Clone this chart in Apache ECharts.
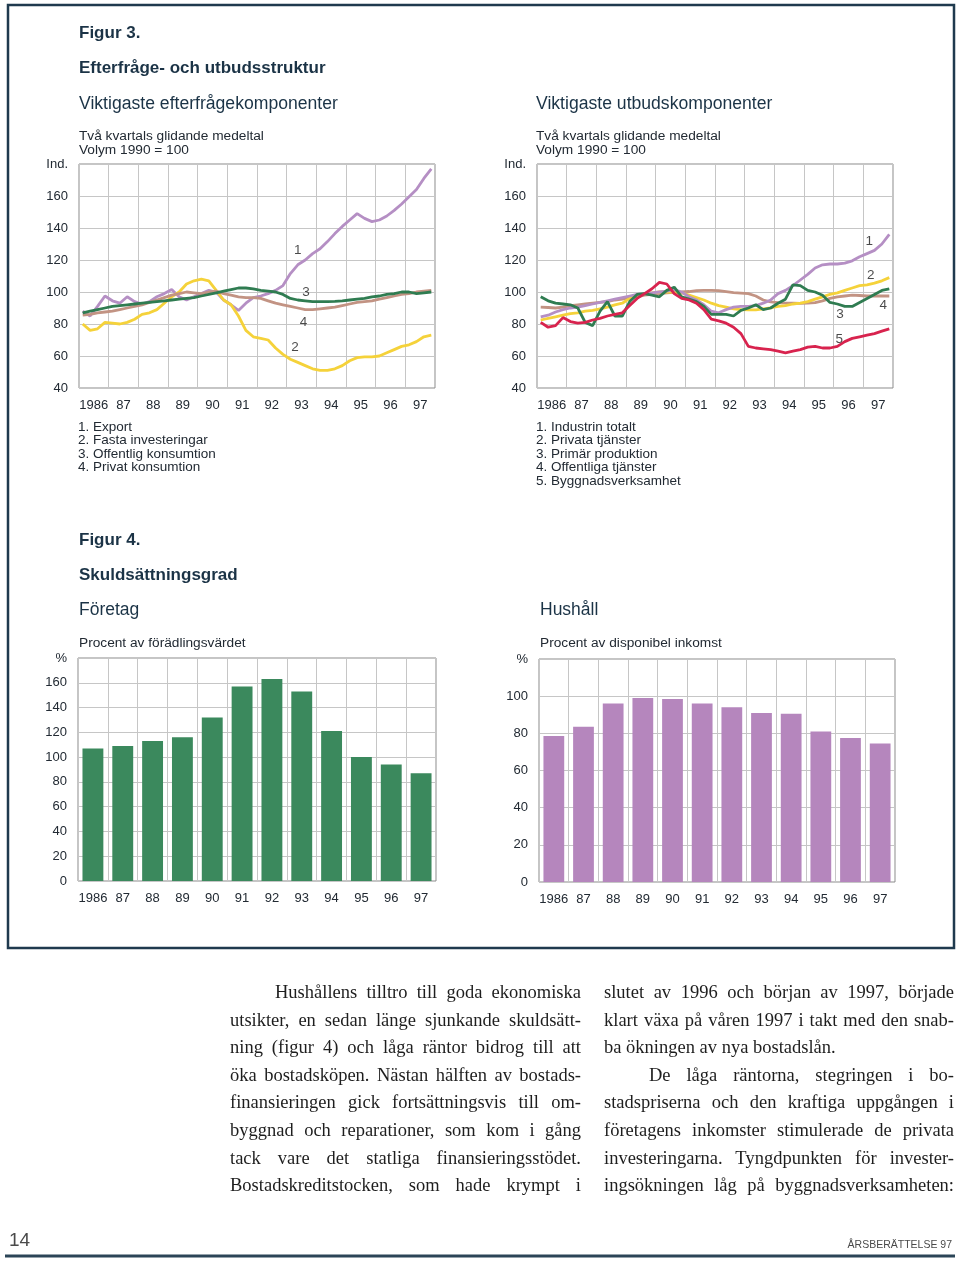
<!DOCTYPE html>
<html><head><meta charset="utf-8">
<script src="https://cdn.jsdelivr.net/npm/echarts/dist/echarts.min.js"></script>
<style>
html,body{margin:0;padding:0;background:#fff;}
#c{position:absolute;left:0;top:0;width:960px;height:1262px;}
.col{position:absolute;top:979px;font-family:"Liberation Serif","Times New Roman",serif;font-size:18.5px;color:#1e1e1e;}
.col div{box-sizing:border-box;width:100%;height:27.6px;line-height:27.6px;white-space:nowrap;text-align:justify;text-align-last:justify;}
.col div.l{text-align:left;text-align-last:left;}
.col div.i{padding-left:45px;}
</style></head>
<body>
<div id="c"></div>
<div class="col" style="left:230px;width:351px">
<div class="i">Hushållens tilltro till goda ekonomiska</div>
<div>utsikter, en sedan länge sjunkande skuldsätt-</div>
<div>ning (figur 4) och låga räntor bidrog till att</div>
<div>öka bostadsköpen. Nästan hälften av bostads-</div>
<div>finansieringen gick fortsättningsvis till om-</div>
<div>byggnad och reparationer, som kom i gång</div>
<div>tack vare det statliga finansieringsstödet.</div>
<div>Bostadskreditstocken, som hade krympt i</div>
</div>
<div class="col" style="left:604px;width:350px">
<div>slutet av 1996 och början av 1997, började</div>
<div>klart växa på våren 1997 i takt med den snab-</div>
<div class="l">ba ökningen av nya bostadslån.</div>
<div class="i">De låga räntorna, stegringen i bo-</div>
<div>stadspriserna och den kraftiga uppgången i</div>
<div>företagens inkomster stimulerade de privata</div>
<div>investeringarna. Tyngdpunkten för invester-</div>
<div>ingsökningen låg på byggnadsverksamheten:</div>
</div>
<script>
// ---------- data ----------
const years = ['1986','87','88','89','90','91','92','93','94','95','96','97'];
// Figur 3, left: quarterly values 1986Q1..1997Q4 (Volym 1990 = 100)
const exportQ = [88,85,91,97.5,94.5,93,97,94,92.5,94,97,99,101.5,97,95,97,99,101,100,95,92,88.5,93,96.5,97.5,99,101,104,111.5,117,120,124,127,131.5,136.5,141,145,149,146,144,145,147.5,151,155,159.5,164,171,177];
const fastaQ = [80,76,77,81,80.5,80,81,83,86,87,89,93,97,100,105,107,108,107,101,95,92,85,76,72,71,70,65,61,58,56,54,52,51,51,52,54,57,59,59.5,59.5,60,62,64,66,67,69,72,73];
const offKonsQ = [87,88,89,90,91,91.5,92,92.5,93,93.5,94,94.5,95,95.5,96,96.5,97.5,98.5,99.5,100.5,101.5,102.5,102.5,102,101,100.5,100,98.5,96,95,94.5,94,94,94,94.2,94.5,95,95.5,96,97,97.5,98.5,99,100,100,99,99.5,100];
const privKonsQ = [85.5,86,87,87.5,88,89,90,91,92,93.5,95,96.5,98,99,100,99.5,99,100,100.5,99,98,97,96.5,96.5,96,94.5,93,92,91,90,89,89,89.5,90,90.5,91.5,92.5,93.5,94,94.5,95.5,96.5,97.5,98.5,99,100,100.5,101];
// Figur 3, right
const industriQ = [84.5,85.5,87.5,89,90,90.5,91.5,92.5,93.5,94.5,95.5,96.5,97.5,98.5,99,99.5,100,100.5,101.5,100,97,95,92,88,87,89,90.5,91,91,91.5,93,95,99,101,104,107.5,111,115,117,117.5,117.5,118,119.5,122,124,126,130,136];
const privTjQ = [82.5,83.5,84.5,85.5,86.5,87,88,88.5,89.5,90.5,92,93,96,98,99,99.5,100,100,100,99.5,98,96.5,95,93,91.5,90.5,89.5,89,88.8,88.8,89.5,90,91,91.5,92.5,93,94,95.5,97,98.5,99.5,101,102.5,104,104.5,105.5,107,109];
const primarQ = [97,94.5,93,92.5,92,90,81,79,88,94,85,85,94,98.5,99,98,97,101,103,97,95.5,94,91,86,86,86,85,88.5,90,92,89,90,93,95.5,104.5,104,101,100,98,93.5,92.5,91,91,93.5,96,98.5,101,102];
const offTjQ = [90.5,90.3,90,90.5,91.5,92,92.5,93,93.5,94,95,95.5,96.5,97,98,98.5,99,99.5,99.8,100,100.3,100.8,101,101,100.8,100.2,99.6,99.3,99,97.5,95,93.8,93.3,93,93,92.9,93,93.3,94.5,96,97,97.5,98,97.8,97.5,97.5,97.5,97.5];
const byggQ = [81,78,79,84,81.5,80.5,81,82.5,83.5,85,86,87,91.5,96,99,102,106,105,99,96,95,93,89,83,82,80.5,78,74,66,65,64.5,64,63,62,63,64,65.5,66,65,65,66,69,71,72,73,74,75.5,77];
// line labels [year, value, text]
const leftLabels = [[1993.37,125.8,'1'],[1993.65,99.6,'3'],[1993.57,81.25,'4'],[1993.28,65.2,'2']];
const rightLabels = [[1997.20,131.9,'1'],[1997.25,110.2,'2'],[1996.21,86.25,'3'],[1997.67,91.4,'4'],[1996.19,70.4,'5']];
// Figur 4
const foretag = [107,109,113,116,132,157,163,153,121,100,94,87];
const hushall = [78.5,83.5,96,99,98.5,96,94,91,90.5,81,77.5,74.5];
const leftLegend = ['1. Export','2. Fasta investeringar','3. Offentlig konsumtion','4. Privat konsumtion'];
const rightLegend = ['1. Industrin totalt','2. Privata tjänster','3. Primär produktion','4. Offentliga tjänster','5. Byggnadsverksamhet'];

// ---------- styles ----------
const SANS = '"Liberation Sans", Arial, Helvetica, sans-serif';
const NAVY = '#1b3346';
const TXT = '#222a33';
const C = {purple:'#b58fc4', yellow:'#f5d23a', green:'#2f7c51', tan:'#c29383', red:'#d8234e',
           barGreen:'#3b895d', barPurple:'#b586bd', grid:'#c6c6c6', border:'#8a8a8a'};

const qx = k => 1986 + (k + 0.5) / 4;
const toXY = arr => arr.map((v, k) => [qx(k), v]);

function T(text, x, y, size, opt) {
  opt = opt || {};
  return {type:'text', silent:true, z:10, style:Object.assign({text:text, x:x, y:y, fill:opt.fill||TXT,
    fontSize:size, fontFamily:SANS, fontWeight:opt.weight||'normal', align:opt.align||'left', verticalAlign:'middle'}, opt.extra||{})};
}

const catX = (gi) => ({type:'category', gridIndex:gi, data:years, boundaryGap:true,
  axisLine:{show:false}, axisTick:{show:false},
  axisLabel:{interval:0, color:TXT, fontSize:13, fontFamily:SANS, margin:10.5},
  splitLine:{show:true, interval:0, lineStyle:{color:C.grid, width:1}}});
const valX = (gi) => ({type:'value', gridIndex:gi, min:1986, max:1998, show:false});
const valY = (gi, min, max, topLabel) => ({type:'value', gridIndex:gi, min:min, max:max, interval:20,
  axisLine:{show:false}, axisTick:{show:false},
  axisLabel:{color:TXT, fontSize:13, fontFamily:SANS, margin:11, formatter: v => v === max ? topLabel : String(v)},
  splitLine:{show:true, lineStyle:{color:C.grid, width:1}}});

const line = (name, arr, color, xi, yi) => ({type:'line', name:name, xAxisIndex:xi, yAxisIndex:yi,
  data:toXY(arr), symbol:'none', lineStyle:{color:color, width:2.8}, itemStyle:{color:color}, silent:true});
const labelSeries = (arr, xi, yi) => ({type:'scatter', xAxisIndex:xi, yAxisIndex:yi, data:arr,
  symbolSize:2, itemStyle:{color:'rgba(0,0,0,0)'}, silent:true, z:5,
  label:{show:true, position:'inside', formatter:p => p.value[2], color:'#1c1c1c', fontSize:13.5, fontFamily:SANS}});

const graphics = [
  {type:'rect', silent:true, shape:{x:8, y:5, width:946, height:943}, style:{fill:'none', stroke:'#1f3a4e', lineWidth:2.5}},
  T('Figur 3.', 79, 33, 17, {fill:NAVY, weight:'bold'}),
  T('Efterfråge- och utbudsstruktur', 79, 68, 17, {fill:NAVY, weight:'bold'}),
  T('Viktigaste efterfrågekomponenter', 79, 104, 17.6, {fill:NAVY}),
  T('Viktigaste utbudskomponenter', 536, 104, 17.6, {fill:NAVY}),
  T('Två kvartals glidande medeltal', 79, 136, 13.7),
  T('Volym 1990 = 100', 79, 150, 13.7),
  T('Två kvartals glidande medeltal', 536, 136, 13.7),
  T('Volym 1990 = 100', 536, 150, 13.7),
  T('Figur 4.', 79, 540, 17, {fill:NAVY, weight:'bold'}),
  T('Skuldsättningsgrad', 79, 575, 17, {fill:NAVY, weight:'bold'}),
  T('Företag', 79, 610, 17.5, {fill:NAVY}),
  T('Hushåll', 540, 610, 17.5, {fill:NAVY}),
  T('Procent av förädlingsvärdet', 79, 643, 13.7),
  T('Procent av disponibel inkomst', 540, 643, 13.7),
  T('14', 9, 1241, 19, {fill:'#4a4a4a'}),
  T('ÅRSBERÄTTELSE 97', 952, 1245, 10.5, {fill:'#4a4a4a', align:'right'}),
  {type:'rect', silent:true, shape:{x:5, y:1254.5, width:950, height:3}, style:{fill:'#2b4457'}}
];
leftLegend.forEach((s, i) => graphics.push(T(s, 78, 427 + i * 13.5, 13.5)));
rightLegend.forEach((s, i) => graphics.push(T(s, 536, 427 + i * 13.5, 13.5)));

const gridBase = {show:true, borderColor:C.border, borderWidth:1, containLabel:false};
const option = {
  animation:false,
  backgroundColor:'#fff',
  grid:[
    Object.assign({left:79, top:164, width:356, height:224}, gridBase),
    Object.assign({left:537, top:164, width:356, height:224}, gridBase),
    Object.assign({left:78, top:658, width:358, height:223}, gridBase),
    Object.assign({left:539, top:659, width:356, height:223}, gridBase)
  ],
  xAxis:[catX(0), catX(1), valX(0), valX(1), catX(2), catX(3)],
  yAxis:[valY(0, 40, 180, 'Ind.'), valY(1, 40, 180, 'Ind.'), valY(2, 0, 180, '%'), valY(3, 0, 120, '%')],
  series:[
    line('Export', exportQ, C.purple, 2, 0),
    line('Fasta investeringar', fastaQ, C.yellow, 2, 0),
    line('Privat konsumtion', privKonsQ, C.tan, 2, 0),
    line('Offentlig konsumtion', offKonsQ, C.green, 2, 0),
    labelSeries(leftLabels, 2, 0),
    line('Offentliga tjänster', offTjQ, C.tan, 3, 1),
    line('Privata tjänster', privTjQ, C.yellow, 3, 1),
    line('Industrin totalt', industriQ, C.purple, 3, 1),
    line('Primär produktion', primarQ, C.green, 3, 1),
    line('Byggnadsverksamhet', byggQ, C.red, 3, 1),
    labelSeries(rightLabels, 3, 1),
    {type:'bar', name:'Företag', xAxisIndex:4, yAxisIndex:2, data:foretag, barWidth:'70%', itemStyle:{color:C.barGreen}, silent:true},
    {type:'bar', name:'Hushåll', xAxisIndex:5, yAxisIndex:3, data:hushall, barWidth:'70%', itemStyle:{color:C.barPurple}, silent:true}
  ],
  graphic:graphics
};
const chart = echarts.init(document.getElementById('c'));
chart.setOption(option);
</script>
</body></html>
